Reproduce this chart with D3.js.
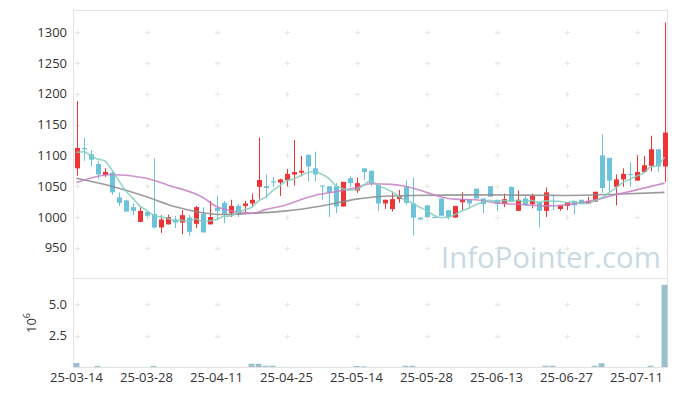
<!DOCTYPE html>
<html><head><meta charset="utf-8">
<script src="https://cdn.jsdelivr.net/npm/d3@7"></script>
<style>body{margin:0;background:#fff;} svg{display:block;font-family:"Open Sans",sans-serif;}</style>
</head><body><svg id="c" width="677" height="396"></svg>
<script>
const dates = ["25-03-14","25-03-17","25-03-18","25-03-19","25-03-20","25-03-21","25-03-24","25-03-25","25-03-26","25-03-27",
"25-03-28","25-03-31","25-04-01","25-04-02","25-04-03","25-04-04","25-04-07","25-04-08","25-04-09","25-04-10",
"25-04-11","25-04-14","25-04-15","25-04-16","25-04-17","25-04-18","25-04-21","25-04-22","25-04-23","25-04-24",
"25-04-25","25-04-28","25-04-29","25-04-30","25-05-02","25-05-07","25-05-08","25-05-09","25-05-12","25-05-13",
"25-05-14","25-05-15","25-05-16","25-05-19","25-05-20","25-05-21","25-05-22","25-05-23","25-05-26","25-05-27",
"25-05-28","25-05-29","25-05-30","25-06-02","25-06-04","25-06-05","25-06-09","25-06-10","25-06-11","25-06-12",
"25-06-13","25-06-16","25-06-17","25-06-18","25-06-19","25-06-20","25-06-23","25-06-24","25-06-25","25-06-26",
"25-06-27","25-06-30","25-07-01","25-07-02","25-07-03","25-07-04","25-07-07","25-07-08","25-07-09","25-07-10",
"25-07-11","25-07-14","25-07-15","25-07-16","25-07-17"];
const open  = [1079,1112,1102,1086,1068,1072,1032,1027,1016,992, 1008,1005,983,988,996,991,999,989,1005,988,
1015,1023,1006,1018,1018,1022,1049,1050,1058,1056, 1060,1069,1072,1101,1079,1051,1050,1050,1017,1063,
1043,1079,1075,1052,1022,1013,1029,1049,1022,999, 1019,1000,1030,1011,999,1024,1029,1046,1030,1050,
1028,1021,1049,1010,1030,1021,1025,1010,1026,1013, 1018,1026,1028,1022,1025,1100,1096,1049,1061,1070,
1059,1073,1083,1110,1082];
const high  = [1188,1129,1109,1091,1079,1073,1040,1028,1022,1016, 1010,1095,1003,1004,1002,1011,1003,1018,1016,1026,
1035,1026,1028,1021,1026,1038,1129,1069,1065,1062, 1078,1125,1099,1101,1106,1051,1050,1055,1057,1066,
1064,1079,1075,1052,1028,1039,1044,1060,1064,999, 1019,1001,1030,1011,1018,1040,1029,1046,1030,1050,
1028,1038,1049,1043,1034,1038,1025,1048,1036,1019, 1024,1026,1028,1033,1041,1134,1096,1069,1079,1089,
1100,1099,1132,1110,1316];
const low   = [1067,1091,1082,1062,1065,1036,1018,1008,1003,992, 1000,981,974,988,982,972,969,982,975,988,
996,990,1000,1000,1006,1016,1028,1030,1049,1034, 1050,1051,1066,1058,1058,1028,1000,1006,1017,1049,
1039,1060,1050,1010,1013,1009,1023,1020,970,995, 1000,998,1002,996,999,1011,1013,1030,1006,1033,
1010,1016,1025,1010,1019,1014,983,1000,1011,1010, 1011,1004,1022,1022,1025,1039,1041,1019,1049,1049,
1059,1073,1074,1073,1057];
const close = [1112,1110,1093,1069,1073,1040,1023,1009,1010,1010, 1002,983,996,1000,991,1003,976,1016,975,1000,
1010,1005,1018,1004,1022,1028,1060,1047,1056,1061, 1070,1073,1075,1082,1069,1050,1039,1017,1057,1055,
1055,1073,1055,1022,1028,1029,1034,1023,999,996, 1000,999,1002,1000,1018,1029,1022,1030,1021,1033,
1021,1029,1025,1028,1019,1034,1010,1040,1025,1019, 1024,1019,1022,1026,1041,1047,1059,1061,1070,1068,
1073,1084,1110,1082,1137];
const volume = [0.32,0.005,0.005,0.08,0.005,0.005,0.005,0.005,0.005,0.005, 0.005,0.08,0.005,0.005,0.005,0.005,0.005,0.005,0.005,0.005,
0.005,0.005,0.005,0.005,0.005,0.26,0.26,0.1,0.1,0.005, 0.005,0.005,0.005,0.005,0.005,0.005,0.005,0.005,0.005,0.005,
0.08,0.05,0.005,0.005,0.005,0.005,0.005,0.1,0.1,0.005, 0.005,0.005,0.005,0.005,0.005,0.005,0.005,0.005,0.005,0.005,
0.005,0.005,0.005,0.005,0.005,0.005,0.005,0.1,0.1,0.005, 0.005,0.005,0.005,0.005,0.1,0.3,0.005,0.005,0.005,0.005,
0.005,0.005,0.1,0.005,6.55];
const ma5Head = [1105,1106,1100,1094];
const ma20Idx = [0,5,10,13,18,20,22,25,27,30,32,34,37,40,42,45,47,50,52,54,57,60,64,67,70,73,77,80,84];
const ma20Val = [1056,1069,1063,1052,1032,1017,1010,1006,1012,1020,1028,1035,1041,1048,1054,1053,1050,1040,1033,1029,1028,1023,1020,1018,1020,1025,1036,1044,1055];
const ma60Idx = [0,5,10,14,18,21,25,30,35,40,43,48,57,70,77,84];
const ma60Val = [1063,1050,1033,1017,1007,1004,1006,1010,1018,1029,1033,1035,1036,1035,1037,1040];
const priceTicks = [950,1000,1050,1100,1150,1200,1250,1300];
const volTicks = [2.5,5.0];
const dateTickIdx = [0,10,20,30,40,50,60,70,80];

const svg = d3.select("#c");
const L = 73, R = 668, T = 10, MID = 278, B = 367;
const idx = d3.range(dates.length);
const x = d3.scaleBand().domain(idx).range([L, R]).padding(0);
const cx = i => x(i) + x.bandwidth()/2;
const y = d3.scaleLinear().domain([901, 1336]).range([MID, T]);
const yv = d3.scaleLinear().domain([0, 7.1]).range([B, MID]);

const UP = "#ee3535", DOWN = "#6cc3d9";
const gridC = "#e6e6e6";

// grid crosses
const cross = (g, px, py) => {
  g.append("line").attr("x1", px-2.5).attr("x2", px+2.5).attr("y1", py).attr("y2", py).attr("stroke", gridC);
  g.append("line").attr("x1", px).attr("x2", px).attr("y1", py-2.5).attr("y2", py+2.5).attr("stroke", gridC);
};
const grid = svg.append("g");
dateTickIdx.forEach(i => {
  priceTicks.forEach(v => cross(grid, Math.round(cx(i))+0.5, Math.round(y(v))+0.5));
  volTicks.forEach(v => cross(grid, Math.round(cx(i))+0.5, Math.round(yv(v))+0.5));
});

// frame
const frame = svg.append("g").attr("stroke", "#e3e3e3").attr("fill", "none");
frame.append("line").attr("x1", L+0.5).attr("x2", L+0.5).attr("y1", T).attr("y2", B);
frame.append("line").attr("x1", R-0.5).attr("x2", R-0.5).attr("y1", T).attr("y2", B);
frame.append("line").attr("x1", L).attr("x2", R).attr("y1", T+0.5).attr("y2", T+0.5);
frame.append("line").attr("x1", L).attr("x2", R).attr("y1", MID+0.5).attr("y2", MID+0.5);
frame.append("line").attr("x1", L).attr("x2", R).attr("y1", B+0.5).attr("y2", B+0.5);

// watermark
const wm = svg.append("text").attr("x", 441).attr("y", 268).attr("font-size", 31)
  .attr("fill", "#c9d9e3").attr("font-family", "Open Sans, sans-serif").text("InfoPointer.com");
const wlen = wm.node().getComputedTextLength();
wm.attr("font-size", 31 * 220 / wlen);

// axes labels
const yAxis = svg.append("g").attr("transform", `translate(${L},0)`)
  .call(d3.axisLeft(y).tickValues(priceTicks).tickSize(0).tickPadding(6).tickFormat(d3.format("d")));
yAxis.select(".domain").remove();
yAxis.selectAll("text").attr("font-size", 13).attr("fill", "#333").attr("font-family", "Open Sans, sans-serif");

const vAxis = svg.append("g").attr("transform", `translate(${L},0)`)
  .call(d3.axisLeft(yv).tickValues(volTicks).tickSize(0).tickPadding(6).tickFormat(d3.format(".1f")));
vAxis.select(".domain").remove();
vAxis.selectAll("text").attr("font-size", 13).attr("fill", "#333").attr("font-family", "Open Sans, sans-serif");

const xAxis = svg.append("g").attr("transform", `translate(0,${B})`)
  .call(d3.axisBottom(x).tickValues(dateTickIdx).tickSize(0).tickPadding(6).tickFormat(i => dates[i]));
xAxis.select(".domain").remove();
xAxis.selectAll("text").attr("font-size", 13).attr("fill", "#333").attr("font-family", "Open Sans, sans-serif");

const vl = svg.append("text").attr("transform", "translate(36,323) rotate(-90)")
  .attr("text-anchor", "middle").attr("font-size", 13).attr("fill", "#333");
vl.append("tspan").text("10");
vl.append("tspan").attr("baseline-shift", "super").attr("font-size", 9).text("6");

// volume bars
const bw = x.bandwidth();
svg.append("g").selectAll("rect").data(idx).join("rect")
  .attr("x", i => cx(i) - bw*0.42).attr("width", bw*0.84)
  .attr("y", i => yv(volume[i])).attr("height", i => B - yv(volume[i]))
  .attr("fill", "#98c0cd");

// candles
const cg = svg.append("g");
cg.selectAll("line").data(idx).join("line")
  .attr("x1", i => Math.round(cx(i))+0.5).attr("x2", i => Math.round(cx(i))+0.5)
  .attr("y1", i => y(high[i])).attr("y2", i => y(low[i]))
  .attr("stroke", i => close[i] >= open[i] ? UP : DOWN).attr("stroke-width", 1);
cg.selectAll("rect").data(idx).join("rect")
  .attr("x", i => Math.round(cx(i)) - 2).attr("width", 5)
  .attr("y", i => y(Math.max(open[i], close[i])))
  .attr("height", i => Math.max(1, Math.abs(y(open[i]) - y(close[i]))))
  .attr("fill", i => close[i] >= open[i] ? UP : DOWN);

// moving averages
const ma5 = idx.map(i => i < 4 ? ma5Head[i] : d3.mean(close.slice(i-4, i+1)));
const line = d3.line().curve(d3.curveMonotoneX);
svg.append("path").attr("d", line(ma60Idx.map((i,k) => [cx(i), y(ma60Val[k])])))
  .attr("fill", "none").attr("stroke", "#8a8a8a").attr("stroke-width", 1.6).attr("opacity", 0.85);
svg.append("path").attr("d", line(ma20Idx.map((i,k) => [cx(i), y(ma20Val[k])])))
  .attr("fill", "none").attr("stroke", "#c77fc4").attr("stroke-width", 1.6).attr("opacity", 0.85);
svg.append("path").attr("d", line(idx.map(i => [cx(i), y(ma5[i])])))
  .attr("fill", "none").attr("stroke", "#82cfc0").attr("stroke-width", 1.6).attr("opacity", 0.85);
</script></body></html>
